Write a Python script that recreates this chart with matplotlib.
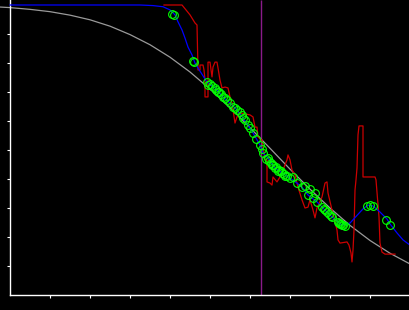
import matplotlib
matplotlib.use("Agg")
import matplotlib.pyplot as plt

# gray reference curve
curve_x = [-0.25, 0, 0.5, 1, 1.5, 2, 2.5, 3, 3.5, 4, 4.5, 5, 5.5, 6, 6.5, 7, 7.5, 8, 8.5, 9, 9.5, 10]
curve_y = [9.93, 9.91, 9.85, 9.77, 9.65, 9.49, 9.27, 8.98, 8.63, 8.20, 7.69, 7.10, 6.46, 5.77,
           5.06, 4.34, 3.65, 3.00, 2.40, 1.88, 1.44, 1.07]

# red noisy trace
red_x = [3.85, 4.3, 4.5, 4.625, 4.675, 4.7, 4.75, 4.75, 4.825, 4.85, 4.875, 4.875, 4.95, 4.95,
         5.0, 5.05, 5.075, 5.125, 5.175, 5.2, 5.25, 5.3, 5.375, 5.45, 5.5, 5.55, 5.625, 5.675,
         5.75, 6.0, 6.075, 6.125, 6.175, 6.2, 6.3, 6.375, 6.425, 6.425, 6.5, 6.55, 6.575, 6.675,
         6.75, 6.825, 6.925, 6.95, 7.0, 7.05, 7.125, 7.2, 7.3, 7.375, 7.45, 7.5, 7.575, 7.625,
         7.675, 7.8, 7.875, 7.925, 7.95, 8.05, 8.125, 8.175, 8.2, 8.25, 8.425, 8.475, 8.525,
         8.55, 8.575, 8.6, 8.625, 8.65, 8.675, 8.7, 8.725, 8.825, 8.825, 8.825, 9.125, 9.15,
         9.225, 9.25, 9.3, 9.375, 9.625]
red_y = [10.0, 10.0, 9.66, 9.38, 9.31, 7.76, 7.76, 7.93, 7.93, 7.76, 7.41, 6.83, 6.83, 8.03,
         8.03, 7.52, 7.86, 8.03, 8.03, 7.83, 7.41, 7.14, 7.17, 7.14, 6.83, 6.62, 5.93, 6.14,
         6.28, 6.21, 6.14, 5.79, 5.79, 5.45, 5.34, 4.66, 4.66, 3.90, 3.86, 3.79, 4.07, 3.90,
         4.07, 4.31, 4.66, 4.83, 4.66, 4.31, 4.14, 3.72, 3.28, 3.00, 3.03, 3.28, 2.93, 2.66,
         3.00, 3.38, 3.86, 3.90, 3.52, 2.93, 2.52, 2.24, 1.90, 1.79, 1.83, 1.72, 1.45,
         1.14, 1.55, 2.24, 3.62, 3.97, 4.38, 5.52, 5.83, 5.83, 5.00, 4.07, 4.07, 3.97,
         2.69, 1.79, 1.48, 1.41, 1.41]

# blue fitted line
blue_x = [0, 3.25, 3.575, 3.825, 4.0, 4.125, 4.2, 4.3, 4.375, 4.45, 4.55, 4.625, 4.7, 4.925,
          5.125, 5.325, 5.5, 5.675, 5.825, 5.95, 6.075, 6.25, 6.325, 6.45, 6.625, 6.8, 7.0,
          7.175, 7.3, 7.45, 7.675, 7.875, 8.05, 8.3, 8.5, 8.825, 8.95, 9.075, 9.25, 9.425,
          9.5, 9.675, 9.825, 10.0]
blue_y = [10.0, 10.0, 9.98, 9.94, 9.83, 9.66, 9.42, 9.14, 8.86, 8.55, 8.28, 8.00, 7.83, 7.34,
          7.14, 6.83, 6.62, 6.38, 6.10, 5.86, 5.59, 5.17, 4.90, 4.72, 4.38, 4.21, 4.03,
          3.86, 3.72, 3.45, 3.21, 2.93, 2.69, 2.41, 2.48, 2.97, 3.10, 3.07, 2.86, 2.62,
          2.45, 2.14, 1.90, 1.72]

# green sample points
pts_x = [4.05, 4.1, 4.575, 4.6, 4.925, 4.95, 5.0, 5.05, 5.125, 5.15, 5.2, 5.225, 5.275, 5.325,
         5.375, 5.425, 5.5, 5.575, 5.625, 5.675, 5.75, 5.8, 5.825, 5.875, 5.95, 6.0, 6.075,
         6.15, 6.25, 6.3, 6.325, 6.4, 6.45, 6.475, 6.525, 6.55, 6.575, 6.625, 6.65, 6.7, 6.725,
         6.775, 6.8, 6.85, 6.875, 6.925, 7.0, 7.075, 7.175, 7.3, 7.375, 7.45, 7.5, 7.575,
         7.625, 7.675, 7.8, 7.85, 7.875, 7.925, 7.975, 8.025, 8.05, 8.2, 8.225, 8.25, 8.275,
         8.3, 8.325, 8.375, 8.925, 9.0, 9.075, 9.4, 9.5]
pts_y = [9.69, 9.66, 8.07, 8.03, 7.34, 7.24, 7.28, 7.21, 7.14, 7.07, 7.00, 7.00, 6.93, 6.83,
         6.79, 6.72, 6.62, 6.48, 6.45, 6.38, 6.31, 6.21, 6.10, 6.03, 5.86, 5.76, 5.59,
         5.38, 5.17, 5.03, 4.90, 4.69, 4.72, 4.62, 4.55, 4.48, 4.48, 4.38, 4.41, 4.28, 4.31,
         4.28, 4.21, 4.17, 4.10, 4.10, 4.03, 4.07, 3.86, 3.72, 3.76, 3.45, 3.66, 3.34,
         3.52, 3.21, 3.03, 2.97, 2.93, 2.86, 2.79, 2.72, 2.69, 2.52, 2.48, 2.45, 2.45,
         2.41, 2.41, 2.38, 3.07, 3.10, 3.07, 2.59, 2.41]

marker_x = 6.28

fig = plt.figure(figsize=(4.1, 3.1), dpi=100, facecolor="black")
ax = fig.add_axes([0, 0, 1, 1], facecolor="black")

ymax = 295 / 29

ax.vlines(marker_x, 0, ymax, color="#8a1a8a", lw=1.0, zorder=1)
ax.plot(curve_x, curve_y, color="#9a9a9a", lw=0.9, zorder=2)
ax.plot(red_x, red_y, color="#cc0000", lw=0.9, zorder=3)
ax.plot(blue_x, blue_y, color="#0000ff", lw=0.9, zorder=4)
ax.plot(pts_x, pts_y, ls="none", marker="o", ms=5.6, mfc="none", mec="#00ff00",
        mew=0.8, zorder=5)

ax.set_xlim(-0.25, 10)
ax.set_ylim(-15 / 29, ymax)

for side in ("top", "right"):
    ax.spines[side].set_visible(False)
for side in ("left", "bottom"):
    ax.spines[side].set_position(("data", 0))
    ax.spines[side].set_color("white")
    ax.spines[side].set_linewidth(1.0)
ax.spines["left"].set_bounds(0, ymax)
ax.spines["bottom"].set_bounds(0, 10)

ax.set_xticks(range(1, 10))
ax.set_yticks(range(1, 10))
ax.tick_params(colors="white", direction="out", length=2.5, width=0.8,
               labelbottom=False, labelleft=False)

fig.savefig("out.png", dpi=100, facecolor="black")
